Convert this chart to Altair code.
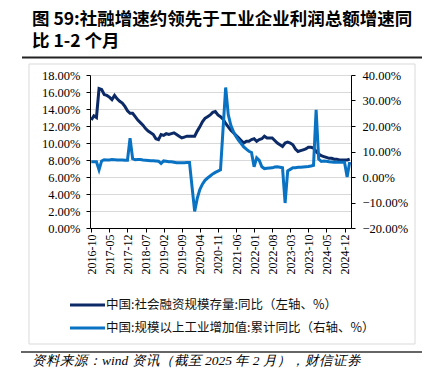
import altair as alt
import pandas as pd

# ---------------- data ----------------
months = [f"{y}-{m:02d}" for y in range(2016, 2026) for m in range(1, 13)]
months = months[months.index("2016-10"):months.index("2025-02") + 1]

tsf = [12.7, 13.2, 13.0, 16.4, 16.3, 15.7, 15.6, 15.4, 15.1, 15.6,
       15.2, 14.9, 14.7, 14.3, 13.8, 13.5, 13.5, 13.1, 12.7, 12.4,
       12.1, 11.7, 11.4, 11.2, 11.0, 10.5, 10.4, 11.0, 10.9, 11.1,
       11.0, 11.1, 11.2, 11.0, 10.8, 10.6, 10.7, 10.8, 10.8, 10.8,
       10.8, 11.4, 11.9, 12.5, 12.9, 13.1, 13.3, 13.6, 13.7, 13.3,
       13.1, 12.8, 12.3, 11.9, 11.5, 11.2, 10.9, 10.6, 10.3, 10.0,
       10.2, 10.2, 10.4, 10.5, 10.2, 10.4, 10.5, 10.8, 10.6, 10.6,
       10.6, 10.3, 10.0, 9.8, 9.6, 10.0, 10.1, 10.0, 9.8, 9.3,
       9.0, 9.1, 9.2, 9.3, 9.5, 9.5, 9.4, 9.0, 8.7, 8.5,
       8.4, 8.3, 8.2, 8.2, 8.1, 8.1, 8.0, 8.0, 8.0, 8.0,
       8.1]

iva = [6.0, 6.0, 6.0, 2.8, 6.3, 6.8, 6.7, 6.7, 6.9, 6.8,
       6.7, 6.7, 6.7, 6.6, 6.6, 15.2, 7.2, 6.8, 6.9, 6.9,
       6.7, 6.6, 6.5, 6.4, 6.4, 6.3, 6.2, 5.3, 6.3, 6.2,
       6.0, 6.0, 5.8, 5.6, 5.6, 5.6, 5.6, 5.7, 5.7, -4.0,
       -13.5, -8.4, -4.9, -2.8, -1.3, -0.4, 0.4, 1.2, 1.8, 2.3,
       2.8, 19.0, 35.1, 24.5, 20.3, 17.8, 15.9, 14.4, 13.1, 11.8,
       10.9, 10.1, 9.6, 4.0, 7.5, 6.5, 4.0, 3.3, 3.4, 3.5,
       3.6, 3.9, 4.0, 3.8, 3.6, -10.2, 2.4, 3.0, 3.6, 3.6,
       3.8, 3.8, 3.9, 4.0, 4.1, 4.3, 4.6, 26.3, 7.0, 6.1,
       6.3, 6.2, 6.0, 5.9, 5.8, 5.8, 5.8, 5.8, 5.8, 0.0,
       5.9]

series_names = ["中国:社会融资规模存量:同比（左轴、%）",
                "中国:规模以上工业增加值:累计同比（右轴、%）"]
series_colors = ["#0b2a66", "#0a72c2"]
x_labels = months[::7]
left_ticks = list(range(0, 19, 2))
right_ticks = list(range(-20, 41, 10))

title_lines = ["图 59:社融增速约领先于工业企业利润总额增速同", "比 1-2 个月"]
source_text = "资料来源：wind 资讯（截至 2025 年 2 月），财信证券"

df = pd.DataFrame({"month": months, "tsf": tsf, "iva": iva})
one = pd.DataFrame({"k": [0]})

W, H = 261, 153

x = alt.X("month:O", sort=months, title=None,
          scale=alt.Scale(type="point", padding=0.5),
          axis=alt.Axis(values=x_labels, labelAngle=-90, grid=False,
                        labelFont="Liberation Serif", labelFontSize=12,
                        labelColor="#000", domainColor="#000", tickColor="#000",
                        tickSize=4, labelPadding=2))

left = alt.Chart(df).mark_line(color=series_colors[0], strokeWidth=3).encode(
    x=x,
    y=alt.Y("tsf:Q", title=None,
            scale=alt.Scale(domain=[0, 18], nice=False, zero=False),
            axis=alt.Axis(orient="left", values=left_ticks,
                          labelExpr="format(datum.value, '.2f') + '%'",
                          grid=True, gridColor="#d9d9d9",
                          labelFont="Liberation Serif", labelFontSize=12.5,
                          labelColor="#000", domainColor="#000", tickColor="#000",
                          tickSize=4, labelPadding=6))
)

right = alt.Chart(df).mark_line(color=series_colors[1], strokeWidth=3).encode(
    x=x,
    y=alt.Y("iva:Q", title=None,
            scale=alt.Scale(domain=[-20, 40], nice=False, zero=False),
            axis=alt.Axis(orient="right", values=right_ticks,
                          labelExpr="format(datum.value, '.2f') + '%'",
                          grid=False,
                          labelFont="Liberation Serif", labelFontSize=12.5,
                          labelColor="#000", domainColor="#000", tickColor="#000",
                          tickSize=4, labelPadding=7))
)

# ---------------- decorations ----------------
box = alt.Chart(one).mark_rect(fill=None, stroke="#d9d9d9", strokeWidth=1).encode(
    x=alt.value(-61), x2=alt.value(325), y=alt.value(-11), y2=alt.value(269))

top_rule = alt.Chart(one).mark_rule(color="#222", strokeWidth=2).encode(
    x=alt.value(-68), x2=alt.value(333), y=alt.value(-17.5))
bottom_rule = alt.Chart(one).mark_rule(color="#333", strokeWidth=1.5).encode(
    x=alt.value(-69), x2=alt.value(333), y=alt.value(277))

t1 = alt.Chart(one).mark_text(text=title_lines[0], align="left", baseline="alphabetic",
                              font="Noto Sans CJK SC", fontWeight="bold", fontSize=17.5,
                              color="#000").encode(x=alt.value(-58), y=alt.value(-50))
t2 = alt.Chart(one).mark_text(text=title_lines[1], align="left", baseline="alphabetic",
                              font="Noto Sans CJK SC", fontWeight="bold", fontSize=17.5,
                              color="#000").encode(x=alt.value(-58), y=alt.value(-28))

src = alt.Chart(one).mark_text(text=source_text, align="left", baseline="alphabetic",
                               font="Liberation Serif", fontStyle="italic", fontSize=13.5,
                               color="#000").encode(x=alt.value(-58), y=alt.value(290))

leg = []
for i, (name, col) in enumerate(zip(series_names, series_colors)):
    yy = 230 + 23 * i
    leg.append(alt.Chart(one).mark_rule(color=col, strokeWidth=3).encode(
        x=alt.value(-20), x2=alt.value(15), y=alt.value(yy)))
    leg.append(alt.Chart(one).mark_text(text=name, align="left", baseline="middle",
                                        font="Noto Sans CJK SC", fontSize=12.5,
                                        color="#111").encode(x=alt.value(16), y=alt.value(yy)))

chart = alt.layer(left, right, box, top_rule, bottom_rule, t1, t2, src, *leg).resolve_scale(
    y="independent"
).properties(
    width=W, height=H,
    autosize=alt.AutoSizeParams(type="none"),
    padding={"left": 82, "top": 67, "right": 71, "bottom": 151},
).configure_view(stroke=None)

chart.save("out.html", embed_options={"renderer": "svg", "actions": False})
